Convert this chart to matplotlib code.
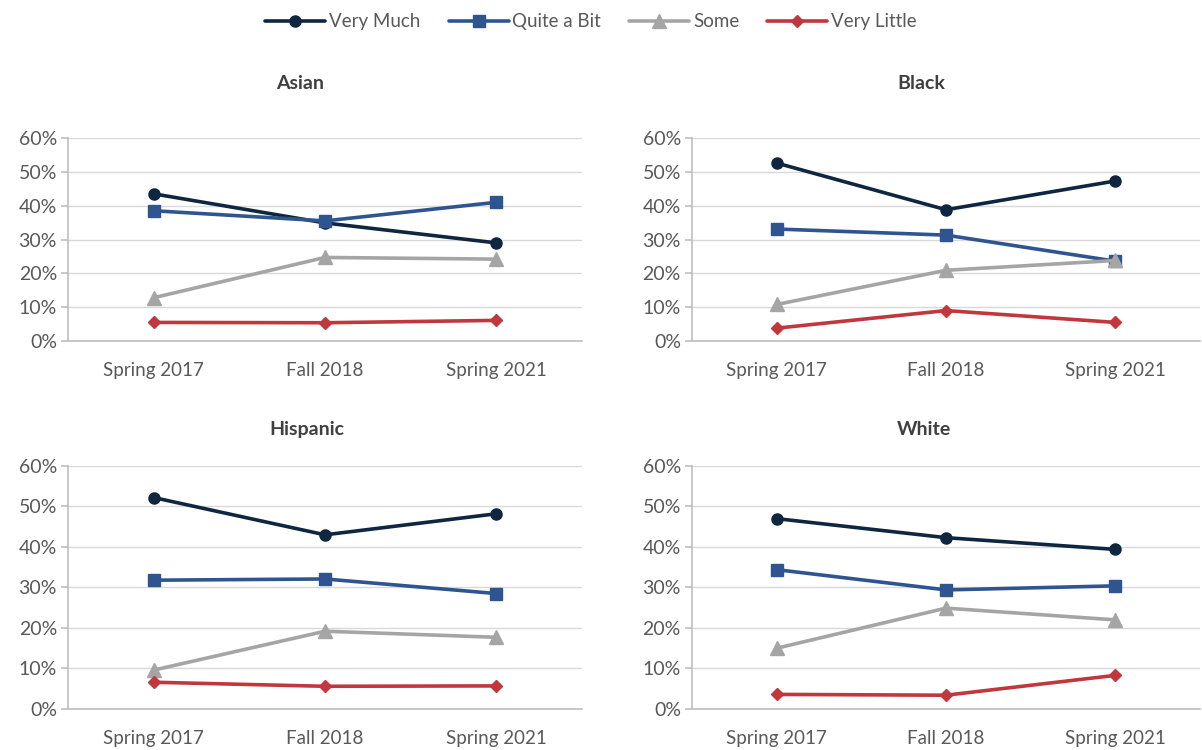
import matplotlib
matplotlib.use("Agg")
import matplotlib.pyplot as plt
from matplotlib.ticker import FuncFormatter

plt.rcParams['font.family'] = ['Lato', 'DejaVu Sans']

periods = ["Spring 2017", "Fall 2018", "Spring 2021"]
series_names = ["Very Much", "Quite a Bit", "Some", "Very Little"]

asian_very_much = [0.435, 0.349, 0.290]
asian_quite_a_bit = [0.385, 0.355, 0.410]
asian_some = [0.128, 0.247, 0.242]
asian_very_little = [0.055, 0.054, 0.061]

black_very_much = [0.526, 0.388, 0.473]
black_quite_a_bit = [0.331, 0.313, 0.236]
black_some = [0.108, 0.209, 0.238]
black_very_little = [0.038, 0.090, 0.055]

hispanic_very_much = [0.522, 0.430, 0.482]
hispanic_quite_a_bit = [0.318, 0.321, 0.285]
hispanic_some = [0.096, 0.192, 0.177]
hispanic_very_little = [0.066, 0.056, 0.057]

white_very_much = [0.470, 0.423, 0.394]
white_quite_a_bit = [0.344, 0.294, 0.304]
white_some = [0.150, 0.249, 0.220]
white_very_little = [0.036, 0.034, 0.083]

panels = [
    ("Asian", [asian_very_much, asian_quite_a_bit, asian_some, asian_very_little]),
    ("Black", [black_very_much, black_quite_a_bit, black_some, black_very_little]),
    ("Hispanic", [hispanic_very_much, hispanic_quite_a_bit, hispanic_some, hispanic_very_little]),
    ("White", [white_very_much, white_quite_a_bit, white_some, white_very_little]),
]

colors = ["#0F2641", "#2F5590", "#A5A5A5", "#C0373D"]
markers = ["o", "s", "^", "D"]
msizes = [8, 8.5, 9.5, 6.5]

fig = plt.figure(figsize=(12.02, 7.5), dpi=100)
positions = [
    [0.0566, 0.5453, 0.4276, 0.2707],
    [0.5757, 0.5453, 0.4226, 0.2707],
    [0.0566, 0.0547, 0.4276, 0.3240],
    [0.5757, 0.0547, 0.4226, 0.3240],
]
title_pads = [35.5, 35.5, 22, 22]
title_x = [0.451, 0.451, 0.465, 0.457]

handles = []
for pos, tpad, tx, (title, data) in zip(positions, title_pads, title_x, panels):
    ax = fig.add_axes(pos)
    x = list(range(len(periods)))
    hs = []
    for vals, name, c, m, ms in zip(data, series_names, colors, markers, msizes):
        h, = ax.plot(x, vals, color=c, marker=m, markersize=ms, linewidth=2.6,
                     label=name, solid_capstyle='round', zorder=3)
        hs.append(h)
    handles = hs
    ax.set_xlim(-0.5, len(periods) - 0.5)
    ax.set_ylim(0, 0.6)
    ax.set_yticks([0, 0.1, 0.2, 0.3, 0.4, 0.5, 0.6])
    ax.yaxis.set_major_formatter(FuncFormatter(lambda v, p: f"{v*100:.0f}%"))
    ax.set_xticks(x)
    ax.set_xticklabels(periods)
    ax.grid(axis='y', color='#D9D9D9', linewidth=1.0, zorder=0)
    ax.set_axisbelow(True)
    for s in ['top', 'right']:
        ax.spines[s].set_visible(False)
    for s in ['left', 'bottom']:
        ax.spines[s].set_color('#BFBFBF')
        ax.spines[s].set_linewidth(1.2)
    ax.tick_params(axis='y', colors='#BFBFBF', labelcolor='#595959', labelsize=14,
                   length=5, width=1.2, pad=3)
    ax.tick_params(axis='x', length=0, labelcolor='#595959', labelsize=13.5, pad=15)
    ax.set_title(title, fontsize=14, fontweight='bold', color='#404040', pad=tpad, x=tx)

fig.legend(handles, series_names, loc='upper center', bbox_to_anchor=(0.4917, 1.005),
           ncol=4, frameon=False, fontsize=13.5, handlelength=3.2,
           columnspacing=1.5, handletextpad=0.2, labelcolor='#595959')

fig.savefig("out.png", dpi=100)
